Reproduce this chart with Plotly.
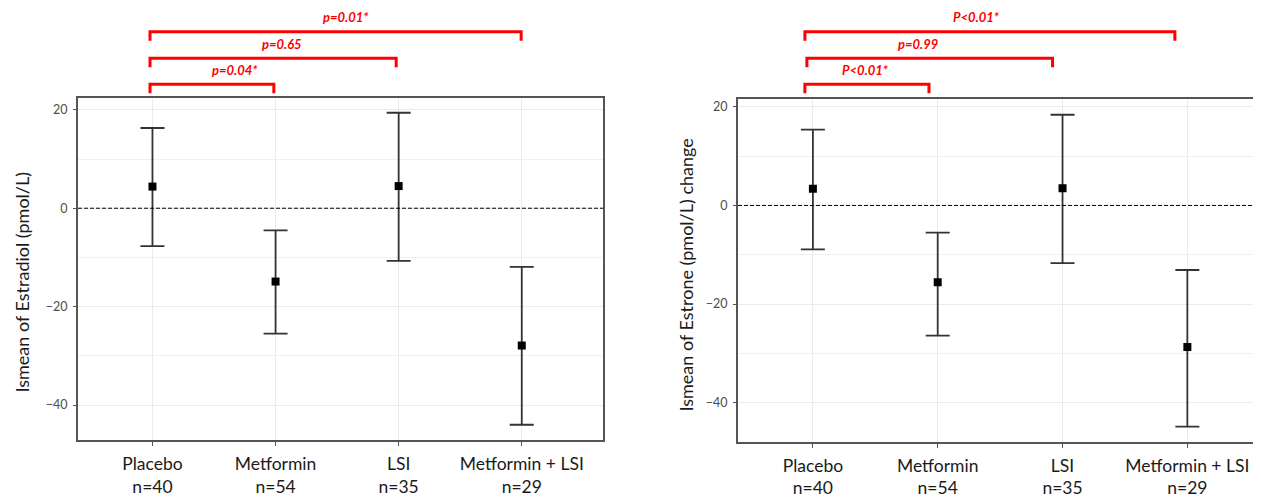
import plotly.graph_objects as go

# ---------------- data ----------------
groups = ["Placebo", "Metformin", "LSI", "Metformin + LSI"]
group_n = ["n=40", "n=54", "n=35", "n=29"]

estradiol_mean = [4.4, -14.9, 4.5, -27.9]
estradiol_lower = [-7.7, -25.5, -10.7, -44.0]
estradiol_upper = [16.3, -4.5, 19.4, -11.9]

estrone_mean = [3.4, -15.6, 3.5, -28.7]
estrone_lower = [-8.9, -26.4, -11.7, -44.9]
estrone_upper = [15.4, -5.5, 18.4, -13.1]

# comparisons vs placebo (group index pairs) and their p-value labels
comparisons = [(0, 1), (0, 2), (0, 3)]
estradiol_p = ["p=0.04*", "p=0.65", "p=0.01*"]
estrone_p = ["P<0.01*", "p=0.99", "P<0.01*"]

y_ticks = [20, 0, -20, -40]

# ---------------- layout constants ----------------
OFF = 8                      # page body margin of the browser
W, H = 1261 - OFF, 497 - OFF
RED = "#ff0000"
FONT = "Lato"


def px_x(p):
    return (p - OFF) / W


def px_y(p):
    return 1 - (p - OFF) / H


xpos = [1, 2, 3, 4]
ticktext = [f"{g}<br>{n}" for g, n in zip(groups, group_n)]

fig = go.Figure()


def add_panel(mean, lower, upper, xa, ya):
    fig.add_trace(go.Scatter(
        x=xpos, y=mean, mode="markers", xaxis=xa, yaxis=ya,
        marker=dict(symbol="square", size=8, color="black"),
        error_y=dict(type="data", symmetric=False,
                     array=[u - m for u, m in zip(upper, mean)],
                     arrayminus=[m - l for m, l in zip(mean, lower)],
                     width=12, thickness=1.8, color="#333333"),
        showlegend=False, hoverinfo="skip"))


add_panel(estradiol_mean, estradiol_lower, estradiol_upper, "x", "y")
add_panel(estrone_mean, estrone_lower, estrone_upper, "x2", "y2")

axis_common_x = dict(
    tickmode="array", tickvals=xpos, ticktext=ticktext,
    showline=True, linecolor="#555555", linewidth=2, mirror=True,
    ticks="outside", ticklen=4, tickcolor="#555555",
    showgrid=True, gridcolor="#ebebeb", gridwidth=1,
    zeroline=False, ticklabelstandoff=3,
    tickfont=dict(family=FONT, size=17.5, color="#1a1a1a"),
)
axis_common_y = dict(
    tickmode="array", tickvals=y_ticks,
    showline=True, linecolor="#555555", linewidth=2, mirror=True,
    ticks="outside", ticklen=3, tickcolor="#555555",
    showgrid=True, gridcolor="#ebebeb", gridwidth=1.2,
    minor=dict(tickmode="array", tickvals=[10, -10, -30], showgrid=True,
               gridcolor="#f0f0f0", gridwidth=1, ticks=""),
    zeroline=False, ticklabelstandoff=3,
    tickfont=dict(family=FONT, size=12.5, color="#4d4d4d"),
)

fig.update_layout(
    width=W, height=H,
    margin=dict(l=0, r=0, t=0, b=0),
    paper_bgcolor="white", plot_bgcolor="white",
    xaxis=dict(axis_common_x, domain=[px_x(78), px_x(603)], range=[0.395, 4.66],
               anchor="y"),
    yaxis=dict(axis_common_y, domain=[px_y(440), px_y(98)],
               range=[-47.1, 22.4], anchor="x"),
    xaxis2=dict(axis_common_x, domain=[px_x(738), 1.0], range=[0.4, 4.59],
                anchor="y2"),
    yaxis2=dict(axis_common_y, domain=[px_y(441.5), px_y(99)],
                range=[-47.9, 21.6], anchor="x2", mirror=False),
)

# dashed zero reference lines
for xr, yr in [("x", "y"), ("x2", "y2")]:
    fig.add_shape(type="line", xref=f"{xr} domain", yref=yr,
                  x0=0, x1=1, y0=0, y1=0,
                  line=dict(color="black", width=1, dash="4px,2px"))

# y-axis titles
fig.add_annotation(text="lsmean of Estradiol (pmol/L)", xref="paper", yref="paper",
                   x=px_x(22), y=px_y(282), textangle=-90, showarrow=False,
                   xanchor="center", yanchor="middle",
                   font=dict(family=FONT, size=18, color="#1a1a1a"))
fig.add_annotation(text="lsmean of Estrone (pmol/L) change", xref="paper", yref="paper",
                   x=px_x(686), y=px_y(275), textangle=-90, showarrow=False,
                   xanchor="center", yanchor="middle",
                   font=dict(family=FONT, size=18, color="#1a1a1a"))

# significance brackets
bracket_y_px = [84.3, 58.3, 31.7]
label_y_px = [70, 44.3, 17.3]
drop_px = 9


def add_brackets(xr, labels, start_off, end_offs, label_x):
    for i, ((a, b), lab) in enumerate(zip(comparisons, labels)):
        x0 = xpos[a] + start_off[i]
        x1 = xpos[b] + end_offs[i]
        yh = px_y(bracket_y_px[i])
        ye = px_y(bracket_y_px[i] + drop_px)
        fig.add_shape(type="path", xref=xr, yref="paper",
                      path=f"M {x0},{ye} L {x0},{yh} L {x1},{yh} L {x1},{ye}",
                      line=dict(color=RED, width=3))
        fig.add_annotation(text=f"<b><i>{lab}</i></b>", xref=xr, yref="paper",
                           x=label_x[i], y=px_y(label_y_px[i]), showarrow=False,
                           xanchor="center", yanchor="middle",
                           font=dict(family=FONT, size=13, color=RED))


add_brackets("x", estradiol_p, [-0.02, -0.02, -0.02], [-0.014, -0.02, -0.005],
             [1.67, 2.049, 2.576])
add_brackets("x2", estrone_p, [-0.064, -0.048, -0.064], [-0.07, -0.08, -0.1],
             [1.42, 1.84, 2.31])

fig.write_html("out.html")
